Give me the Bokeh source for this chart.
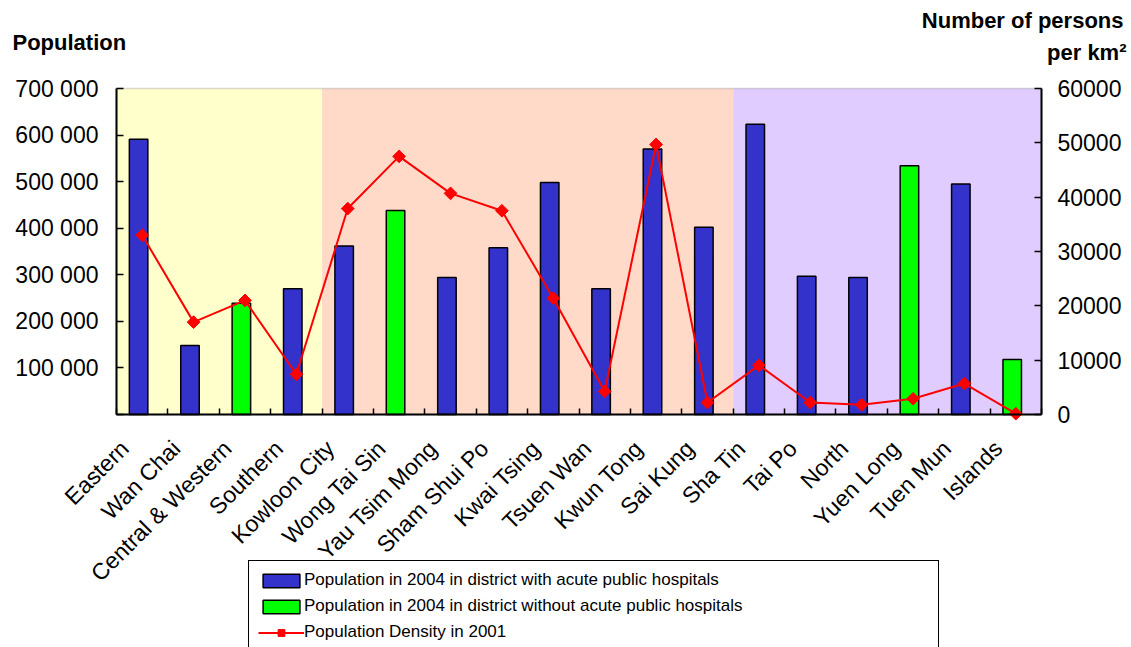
import math
from bokeh.plotting import figure
from bokeh.models import (Range1d, LinearAxis, FixedTicker, BoxAnnotation, Legend,
                          LegendItem, Label)
from bokeh.embed import file_html
from bokeh.resources import INLINE

districts = ["Eastern", "Wan Chai", "Central & Western", "Southern", "Kowloon City",
             "Wong Tai Sin", "Yau Tsim Mong", "Sham Shui Po", "Kwai Tsing", "Tsuen Wan",
             "Kwun Tong", "Sai Kung", "Sha Tin", "Tai Po", "North", "Yuen Long",
             "Tuen Mun", "Islands"]
population_2004 = [591000, 148000, 239000, 270000, 362000, 438000, 294000, 358000, 498000,
                   270000, 570000, 402000, 623000, 297000, 294000, 534000, 495000, 118000]
has_acute_hospital = [True, True, False, True, True, False, True, True, True,
                      True, True, True, True, True, True, False, True, False]
density_2001 = [33000, 17000, 21000, 7400, 37900, 47500, 40700, 37500, 21400,
                4250, 49700, 2200, 9050, 2200, 1800, 2900, 5700, 150]
regions = ["Hong Kong Island", "Kowloon", "New Territories"]
region_sizes = [4, 8, 6]
region_colors = ["#FFFFCC", "#FFDAC8", "#E0CCFF"]
left_ticks = [0, 100000, 200000, 300000, 400000, 500000, 600000, 700000]
left_tick_labels = ["", "100 000", "200 000", "300 000", "400 000", "500 000", "600 000", "700 000"]
right_ticks = [0, 10000, 20000, 30000, 40000, 50000, 60000]
pop_max = 700000
dens_max = 60000

FONT = "Liberation Sans"
BLUE = "#3333CC"
GREEN = "#00FF00"
RED = "#FF0000"

# page / plot-area geometry in pixels
W, H = 1131, 647
PL, PR, PT, PB = 116, 1041, 88, 414

n = len(districts)
centers = [i + 0.5 for i in range(n)]
bounds = list(range(n + 1))
bar_off = -0.07
label_shift = 0.34

ux = (PR - PL) / n
x0 = -PL / ux
x1 = n + (W - PR) / ux
def yr(vmax):
    u = (PB - PT) / vmax
    return Range1d(-(H - PB) / u, vmax + PT / u)

p = figure(width=W, height=H, output_backend="svg", toolbar_location=None,
           x_range=Range1d(x0, x1), y_range=yr(pop_max), min_border=0)
p.extra_y_ranges = {"density": yr(dens_max)}
p.extra_x_ranges = {"labels": Range1d(x0 + label_shift, x1 + label_shift)}
p.xgrid.visible = False
p.ygrid.visible = False
p.outline_line_color = None
p.background_fill_color = "white"

start = 0
for size, col in zip(region_sizes, region_colors):
    p.add_layout(BoxAnnotation(left=start, right=start + size, bottom=0, top=pop_max,
                               fill_color=col, fill_alpha=1.0, line_alpha=0, level="underlay"))
    start += size
p.add_layout(BoxAnnotation(left=0, right=n, bottom=0, top=pop_max, fill_alpha=0,
                           line_color="#808080", line_width=1.5, level="underlay"))

bx = [c + bar_off for c, h in zip(centers, has_acute_hospital) if h]
by = [v for v, h in zip(population_2004, has_acute_hospital) if h]
gx = [c + bar_off for c, h in zip(centers, has_acute_hospital) if not h]
gy = [v for v, h in zip(population_2004, has_acute_hospital) if not h]

r_blue = p.vbar(x=bx, top=by, width=0.36, fill_color=BLUE, line_color="black", line_width=1.5)
r_green = p.vbar(x=gx, top=gy, width=0.36, fill_color=GREEN, line_color="black", line_width=1.5)
r_line = p.line(centers, density_2001, y_range_name="density", line_color=RED, line_width=2)
r_pts = p.scatter(centers, density_2001, y_range_name="density", marker="square", angle=math.pi / 4,
                  size=9, fill_color=RED, line_color=RED)

# bottom axis: line + category boundary ticks (no labels on this one)
xa = p.xaxis[0]
xa.fixed_location = 0
xa.bounds = (0, n)
xa.ticker = FixedTicker(ticks=[], minor_ticks=bounds)
xa.major_tick_in = 0
xa.major_tick_out = 0
xa.minor_tick_in = 6
xa.minor_tick_out = 0
xa.minor_tick_line_color = "black"
xa.minor_tick_line_width = 1.5
xa.axis_line_color = "black"
xa.axis_line_width = 2

# district labels
la = LinearAxis(x_range_name="labels", ticker=FixedTicker(ticks=centers), fixed_location=0)
la.major_label_overrides = {c: d for c, d in zip(centers, districts)}
la.major_label_orientation = math.pi / 4
la.major_tick_line_color = None
la.minor_tick_line_color = None
la.axis_line_color = None
la.major_tick_in = 0
la.major_tick_out = 0
la.major_label_standoff = 30
la.major_label_text_font = FONT
la.major_label_text_font_size = "23px"
la.major_label_text_color = "black"
p.add_layout(la, "below")

ya = p.yaxis[0]
ya.fixed_location = 0
ya.bounds = (0, pop_max)
ya.ticker = FixedTicker(ticks=left_ticks)
ya.major_label_overrides = {t: l for t, l in zip(left_ticks, left_tick_labels)}
ya.minor_tick_line_color = None
ya.major_tick_in = 7
ya.major_tick_out = 0
ya.major_tick_line_color = "black"
ya.major_tick_line_width = 1.5
ya.axis_line_color = "black"
ya.axis_line_width = 2
ya.major_label_standoff = 18
ya.major_label_text_font = FONT
ya.major_label_text_font_size = "23px"
ya.major_label_text_color = "black"

ra = LinearAxis(y_range_name="density", ticker=FixedTicker(ticks=right_ticks),
                fixed_location=n, bounds=(0, dens_max))
ra.minor_tick_line_color = None
ra.major_tick_in = 7
ra.major_tick_out = 0
ra.major_tick_line_color = "black"
ra.major_tick_line_width = 1.5
ra.axis_line_color = "black"
ra.axis_line_width = 2
ra.major_label_standoff = 16
ra.major_label_text_font = FONT
ra.major_label_text_font_size = "23px"
ra.major_label_text_color = "black"
p.add_layout(ra, "right")

legend = Legend(items=[
    LegendItem(label="Population in 2004 in district with acute public hospitals", renderers=[r_blue]),
    LegendItem(label="Population in 2004 in district without acute public hospitals", renderers=[r_green]),
    LegendItem(label="Population Density in 2001", renderers=[r_line, r_pts]),
], location=(248, -5))
legend.label_text_font = FONT
legend.label_text_font_size = "17px"
legend.label_text_color = "black"
legend.glyph_width = 46
legend.glyph_height = 17
legend.label_height = 20
legend.spacing = 6
legend.padding = 9
legend.margin = 0
legend.label_standoff = 0
legend.label_width = 625
legend.border_line_color = "black"
legend.border_line_alpha = 1
legend.border_line_width = 1.5
legend.background_fill_alpha = 1
p.add_layout(legend)

tkw = dict(x_units="screen", y_units="screen", text_font=FONT, text_font_size="22px",
           text_font_style="bold", text_color="black", text_baseline="middle")
p.add_layout(Label(x=12, y=H - 42, text="Population", text_align="left", **tkw))
p.add_layout(Label(x=1123, y=H - 20, text="Number of persons", text_align="right", **tkw))
p.add_layout(Label(x=1126, y=H - 52, text="per km\u00b2", text_align="right", **tkw))

open("out.html", "w").write(file_html(p, INLINE))
